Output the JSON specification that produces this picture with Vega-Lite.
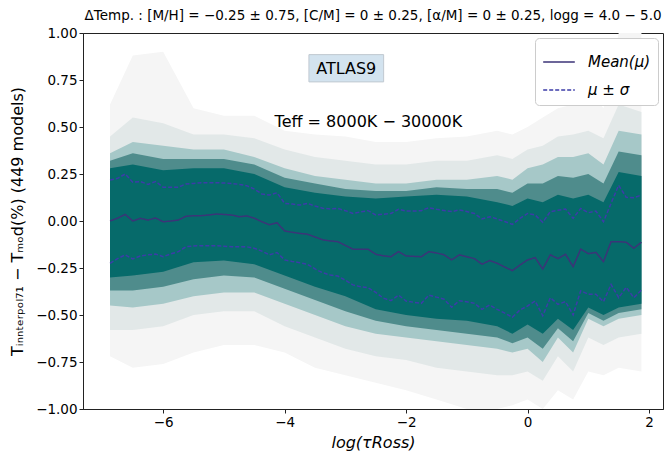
{
  "$schema": "https://vega.github.io/schema/vega-lite/v6.json",
  "width": 580,
  "height": 376,
  "autosize": {"type": "none"},
  "padding": {"left": 83, "top": 33, "right": 5, "bottom": 43},
  "background": "white",
  "config": {
    "font": "DejaVu Sans",
    "view": {"stroke": "#222222", "strokeWidth": 1},
    "axis": {"domainColor": "#222222", "tickColor": "#222222", "labelColor": "#000000", "titleColor": "#000000", "labelFontSize": 13.5, "titleFontSize": 16, "titleFontWeight": "normal", "grid": false, "tickSize": 4}
  },
  "title": {"text": "ΔTemp. : [M/H] = −0.25 ± 0.75, [C/M] = 0 ± 0.25, [α/M] = 0 ± 0.25, logg = 4.0 − 5.0", "fontSize": 13.5, "fontWeight": "normal", "font": "DejaVu Sans", "anchor": "middle", "offset": 4, "color": "#000000"},
  "datasets": {
    "fan": [
      {"x": -6.875, "g_hi": 0.62, "g_lo": -0.72, "f_hi": 0.45, "f_lo": -0.58, "t_hi": 0.36, "t_lo": -0.45, "m_hi": 0.32, "m_lo": -0.37, "c_hi": 0.28, "c_lo": -0.30},
      {"x": -6.5, "g_hi": 0.88, "g_lo": -0.78, "f_hi": 0.55, "f_lo": -0.58, "t_hi": 0.42, "t_lo": -0.46, "m_hi": 0.36, "m_lo": -0.37, "c_hi": 0.30, "c_lo": -0.29},
      {"x": -6.0, "g_hi": 0.90, "g_lo": -0.76, "f_hi": 0.52, "f_lo": -0.56, "t_hi": 0.40, "t_lo": -0.44, "m_hi": 0.33, "m_lo": -0.35, "c_hi": 0.27, "c_lo": -0.27},
      {"x": -5.5, "g_hi": 0.60, "g_lo": -0.70, "f_hi": 0.46, "f_lo": -0.50, "t_hi": 0.38, "t_lo": -0.40, "m_hi": 0.33, "m_lo": -0.31, "c_hi": 0.28, "c_lo": -0.22},
      {"x": -5.0, "g_hi": 0.56, "g_lo": -0.66, "f_hi": 0.46, "f_lo": -0.48, "t_hi": 0.38, "t_lo": -0.38, "m_hi": 0.33, "m_lo": -0.29, "c_hi": 0.28, "c_lo": -0.21},
      {"x": -4.5, "g_hi": 0.56, "g_lo": -0.66, "f_hi": 0.44, "f_lo": -0.48, "t_hi": 0.34, "t_lo": -0.38, "m_hi": 0.30, "m_lo": -0.30, "c_hi": 0.25, "c_lo": -0.23},
      {"x": -4.0, "g_hi": 0.48, "g_lo": -0.70, "f_hi": 0.38, "f_lo": -0.56, "t_hi": 0.28, "t_lo": -0.44, "m_hi": 0.23, "m_lo": -0.36, "c_hi": 0.18, "c_lo": -0.29},
      {"x": -3.5, "g_hi": 0.46, "g_lo": -0.78, "f_hi": 0.34, "f_lo": -0.62, "t_hi": 0.24, "t_lo": -0.50, "m_hi": 0.20, "m_lo": -0.42, "c_hi": 0.15, "c_lo": -0.35},
      {"x": -3.0, "g_hi": 0.45, "g_lo": -0.82, "f_hi": 0.32, "f_lo": -0.68, "t_hi": 0.22, "t_lo": -0.56, "m_hi": 0.17, "m_lo": -0.48, "c_hi": 0.13, "c_lo": -0.40},
      {"x": -2.5, "g_hi": 0.42, "g_lo": -0.86, "f_hi": 0.30, "f_lo": -0.72, "t_hi": 0.20, "t_lo": -0.60, "m_hi": 0.16, "m_lo": -0.53, "c_hi": 0.12, "c_lo": -0.47},
      {"x": -2.0, "g_hi": 0.42, "g_lo": -0.90, "f_hi": 0.30, "f_lo": -0.74, "t_hi": 0.20, "t_lo": -0.62, "m_hi": 0.16, "m_lo": -0.56, "c_hi": 0.13, "c_lo": -0.50},
      {"x": -1.5, "g_hi": 0.44, "g_lo": -0.95, "f_hi": 0.32, "f_lo": -0.78, "t_hi": 0.22, "t_lo": -0.64, "m_hi": 0.18, "m_lo": -0.58, "c_hi": 0.14, "c_lo": -0.52},
      {"x": -1.0, "g_hi": 0.45, "g_lo": -1.0, "f_hi": 0.32, "f_lo": -0.80, "t_hi": 0.22, "t_lo": -0.66, "m_hi": 0.17, "m_lo": -0.60, "c_hi": 0.13, "c_lo": -0.53},
      {"x": -0.5, "g_hi": 0.48, "g_lo": -1.0, "f_hi": 0.35, "f_lo": -0.82, "t_hi": 0.24, "t_lo": -0.68, "m_hi": 0.17, "m_lo": -0.62, "c_hi": 0.10, "c_lo": -0.56},
      {"x": -0.25, "g_hi": 0.46, "g_lo": -0.98, "f_hi": 0.33, "f_lo": -0.82, "t_hi": 0.22, "t_lo": -0.70, "m_hi": 0.15, "m_lo": -0.65, "c_hi": 0.08, "c_lo": -0.60},
      {"x": 0.0, "g_hi": 0.50, "g_lo": -0.95, "f_hi": 0.38, "f_lo": -0.80, "t_hi": 0.28, "t_lo": -0.68, "m_hi": 0.20, "m_lo": -0.62, "c_hi": 0.12, "c_lo": -0.55},
      {"x": 0.25, "g_hi": 0.55, "g_lo": -1.0, "f_hi": 0.40, "f_lo": -0.85, "t_hi": 0.30, "t_lo": -0.75, "m_hi": 0.20, "m_lo": -0.68, "c_hi": 0.10, "c_lo": -0.60},
      {"x": 0.5, "g_hi": 0.60, "g_lo": -0.90, "f_hi": 0.45, "f_lo": -0.72, "t_hi": 0.34, "t_lo": -0.62, "m_hi": 0.24, "m_lo": -0.57, "c_hi": 0.14, "c_lo": -0.52},
      {"x": 0.75, "g_hi": 0.62, "g_lo": -0.95, "f_hi": 0.46, "f_lo": -0.80, "t_hi": 0.34, "t_lo": -0.70, "m_hi": 0.23, "m_lo": -0.64, "c_hi": 0.12, "c_lo": -0.58},
      {"x": 1.0, "g_hi": 0.70, "g_lo": -0.80, "f_hi": 0.48, "f_lo": -0.62, "t_hi": 0.36, "t_lo": -0.52, "m_hi": 0.25, "m_lo": -0.49, "c_hi": 0.14, "c_lo": -0.46},
      {"x": 1.25, "g_hi": 0.60, "g_lo": -0.82, "f_hi": 0.44, "f_lo": -0.66, "t_hi": 0.30, "t_lo": -0.56, "m_hi": 0.20, "m_lo": -0.53, "c_hi": 0.10, "c_lo": -0.50},
      {"x": 1.5, "g_hi": 1.0, "g_lo": -0.78, "f_hi": 0.62, "f_lo": -0.62, "t_hi": 0.48, "t_lo": -0.52, "m_hi": 0.37, "m_lo": -0.49, "c_hi": 0.26, "c_lo": -0.46},
      {"x": 1.875, "g_hi": 1.0, "g_lo": -0.80, "f_hi": 0.58, "f_lo": -0.60, "t_hi": 0.46, "t_lo": -0.50, "m_hi": 0.35, "m_lo": -0.47, "c_hi": 0.24, "c_lo": -0.44}
    ],
    "lines": [
      {"x": -6.875, "m": 0.0, "hi": 0.218, "lo": -0.225},
      {"x": -6.75, "m": 0.015, "hi": 0.227, "lo": -0.2},
      {"x": -6.625, "m": 0.035, "hi": 0.25, "lo": -0.18},
      {"x": -6.5, "m": 0.0, "hi": 0.206, "lo": -0.202},
      {"x": -6.375, "m": 0.014, "hi": 0.21, "lo": -0.186},
      {"x": -6.25, "m": 0.005, "hi": 0.195, "lo": -0.18},
      {"x": -6.125, "m": 0.016, "hi": 0.21, "lo": -0.176},
      {"x": -6.0, "m": -0.004, "hi": 0.18, "lo": -0.19},
      {"x": -5.875, "m": 0.0, "hi": 0.18, "lo": -0.175},
      {"x": -5.75, "m": 0.005, "hi": 0.18, "lo": -0.163},
      {"x": -5.625, "m": 0.025, "hi": 0.197, "lo": -0.137},
      {"x": -5.5, "m": 0.028, "hi": 0.2, "lo": -0.133},
      {"x": -5.375, "m": 0.028, "hi": 0.203, "lo": -0.131},
      {"x": -5.25, "m": 0.032, "hi": 0.204, "lo": -0.131},
      {"x": -5.125, "m": 0.037, "hi": 0.204, "lo": -0.131},
      {"x": -5.0, "m": 0.035, "hi": 0.202, "lo": -0.134},
      {"x": -4.875, "m": 0.032, "hi": 0.2, "lo": -0.137},
      {"x": -4.75, "m": 0.023, "hi": 0.195, "lo": -0.137},
      {"x": -4.625, "m": 0.027, "hi": 0.188, "lo": -0.137},
      {"x": -4.5, "m": 0.015, "hi": 0.17, "lo": -0.145},
      {"x": -4.375, "m": -0.004, "hi": 0.144, "lo": -0.16},
      {"x": -4.25, "m": -0.02, "hi": 0.138, "lo": -0.18},
      {"x": -4.125, "m": -0.009, "hi": 0.15, "lo": -0.168},
      {"x": -4.0, "m": -0.053, "hi": 0.094, "lo": -0.207},
      {"x": -3.875, "m": -0.06, "hi": 0.09, "lo": -0.215},
      {"x": -3.75, "m": -0.066, "hi": 0.085, "lo": -0.222},
      {"x": -3.625, "m": -0.07, "hi": 0.094, "lo": -0.23},
      {"x": -3.5, "m": -0.085, "hi": 0.08, "lo": -0.255},
      {"x": -3.375, "m": -0.1, "hi": 0.068, "lo": -0.275},
      {"x": -3.25, "m": -0.106, "hi": 0.064, "lo": -0.287},
      {"x": -3.125, "m": -0.11, "hi": 0.067, "lo": -0.293},
      {"x": -3.0, "m": -0.13, "hi": 0.055, "lo": -0.315},
      {"x": -2.875, "m": -0.15, "hi": 0.04, "lo": -0.34},
      {"x": -2.75, "m": -0.15, "hi": 0.048, "lo": -0.35},
      {"x": -2.625, "m": -0.15, "hi": 0.055, "lo": -0.355},
      {"x": -2.5, "m": -0.177, "hi": 0.032, "lo": -0.38},
      {"x": -2.375, "m": -0.185, "hi": 0.036, "lo": -0.41},
      {"x": -2.25, "m": -0.19, "hi": 0.04, "lo": -0.424},
      {"x": -2.125, "m": -0.163, "hi": 0.062, "lo": -0.394},
      {"x": -2.0, "m": -0.186, "hi": 0.053, "lo": -0.426},
      {"x": -1.875, "m": -0.188, "hi": 0.053, "lo": -0.432},
      {"x": -1.75, "m": -0.19, "hi": 0.055, "lo": -0.438},
      {"x": -1.625, "m": -0.163, "hi": 0.071, "lo": -0.394},
      {"x": -1.5, "m": -0.17, "hi": 0.062, "lo": -0.405},
      {"x": -1.375, "m": -0.18, "hi": 0.056, "lo": -0.416},
      {"x": -1.25, "m": -0.207, "hi": 0.05, "lo": -0.459},
      {"x": -1.125, "m": -0.18, "hi": 0.059, "lo": -0.424},
      {"x": -1.0, "m": -0.19, "hi": 0.05, "lo": -0.43},
      {"x": -0.875, "m": -0.2, "hi": 0.04, "lo": -0.438},
      {"x": -0.75, "m": -0.23, "hi": 0.011, "lo": -0.47},
      {"x": -0.625, "m": -0.21, "hi": 0.023, "lo": -0.447},
      {"x": -0.5, "m": -0.225, "hi": 0.011, "lo": -0.47},
      {"x": -0.375, "m": -0.245, "hi": -0.003, "lo": -0.49},
      {"x": -0.25, "m": -0.264, "hi": -0.018, "lo": -0.512},
      {"x": -0.125, "m": -0.234, "hi": 0.014, "lo": -0.473},
      {"x": 0.0, "m": -0.207, "hi": 0.04, "lo": -0.452},
      {"x": 0.125, "m": -0.195, "hi": 0.032, "lo": -0.426},
      {"x": 0.25, "m": -0.255, "hi": -0.007, "lo": -0.504},
      {"x": 0.375, "m": -0.18, "hi": 0.05, "lo": -0.408},
      {"x": 0.5, "m": -0.2, "hi": 0.057, "lo": -0.443},
      {"x": 0.625, "m": -0.177, "hi": 0.064, "lo": -0.429},
      {"x": 0.75, "m": -0.243, "hi": 0.014, "lo": -0.5},
      {"x": 0.875, "m": -0.149, "hi": 0.067, "lo": -0.371},
      {"x": 1.0, "m": -0.174, "hi": 0.044, "lo": -0.39},
      {"x": 1.125, "m": -0.167, "hi": 0.053, "lo": -0.39},
      {"x": 1.25, "m": -0.216, "hi": -0.004, "lo": -0.429},
      {"x": 1.375, "m": -0.11, "hi": 0.094, "lo": -0.337},
      {"x": 1.5, "m": -0.11, "hi": 0.19, "lo": -0.408},
      {"x": 1.625, "m": -0.113, "hi": 0.126, "lo": -0.353},
      {"x": 1.75, "m": -0.145, "hi": 0.124, "lo": -0.408},
      {"x": 1.875, "m": -0.113, "hi": 0.138, "lo": -0.367}
    ]
  },
  "encoding": {
    "x": {"field": "x", "type": "quantitative", "scale": {"domain": [-7.32, 2.23], "nice": false, "zero": false},
      "axis": {"values": [-6, -4, -2, 0, 2], "labelExpr": "replace(format(datum.value, 'd'), '-', '−')", "title": "log(τRoss)", "titleFontStyle": "italic", "titlePadding": 6}}
  },
  "layer": [
    {"data": {"name": "fan"}, "mark": {"type": "area", "color": "#f5f5f5", "clip": true},
      "encoding": {"y": {"field": "g_lo", "type": "quantitative", "scale": {"domain": [-1, 1], "nice": false},
        "axis": {"values": [-1, -0.75, -0.5, -0.25, 0, 0.25, 0.5, 0.75, 1], "labelExpr": "replace(format(datum.value, '.2f'), '-', '−')", "title": "Tᵢₙₙₜₑᵣₚₒₗ₇₁ − Tₘₒd(%) (449 models)", "titlePadding": 10}},
        "y2": {"field": "g_hi"}}},
    {"data": {"name": "fan"}, "mark": {"type": "area", "color": "#e2e8e8", "clip": true},
      "encoding": {"y": {"field": "f_lo", "type": "quantitative"}, "y2": {"field": "f_hi"}}},
    {"data": {"name": "fan"}, "mark": {"type": "area", "color": "#a6c8c8", "clip": true},
      "encoding": {"y": {"field": "t_lo", "type": "quantitative"}, "y2": {"field": "t_hi"}}},
    {"data": {"name": "fan"}, "mark": {"type": "area", "color": "#4f8c8c", "clip": true},
      "encoding": {"y": {"field": "m_lo", "type": "quantitative"}, "y2": {"field": "m_hi"}}},
    {"data": {"name": "fan"}, "mark": {"type": "area", "color": "#066a6a", "clip": true},
      "encoding": {"y": {"field": "c_lo", "type": "quantitative"}, "y2": {"field": "c_hi"}}},
    {"data": {"name": "lines"}, "mark": {"type": "line", "strokeWidth": 1.5},
      "encoding": {"y": {"field": "m", "type": "quantitative"},
        "color": {"datum": "Mean(μ)", "type": "nominal", "scale": {"domain": ["Mean(μ)", "μ ± σ"], "range": ["#3c3478", "#3c3ca8"]},
          "legend": {"title": null, "orient": "top-right", "offset": 5, "fillColor": "white", "strokeColor": "#cccccc", "cornerRadius": 4, "padding": 7, "labelFontSize": 15, "labelFontStyle": "italic", "labelColor": "#000000", "symbolType": "stroke", "symbolSize": 1000, "symbolStrokeWidth": 1.5, "rowPadding": 3, "labelOffset": 12}},
        "strokeDash": {"datum": "Mean(μ)", "type": "nominal", "scale": {"domain": ["Mean(μ)", "μ ± σ"], "range": [[1, 0], [4, 2]]}, "legend": null}}},
    {"data": {"name": "lines"}, "mark": {"type": "line", "strokeWidth": 1.5},
      "encoding": {"y": {"field": "hi", "type": "quantitative"},
        "color": {"datum": "μ ± σ", "type": "nominal"},
        "strokeDash": {"datum": "μ ± σ", "type": "nominal"}}},
    {"data": {"name": "lines"}, "mark": {"type": "line", "strokeWidth": 1.5},
      "encoding": {"y": {"field": "lo", "type": "quantitative"},
        "color": {"datum": "μ ± σ", "type": "nominal"},
        "strokeDash": {"datum": "μ ± σ", "type": "nominal"}}},
    {"data": {"values": [{"x0": -3.6, "x1": -2.37, "y0": 0.74, "y1": 0.885}]},
      "mark": {"type": "rect", "fill": "#d3e3ef", "stroke": "#c0c8d0", "strokeWidth": 1},
      "encoding": {"x": {"field": "x0", "type": "quantitative"}, "x2": {"field": "x1"}, "y": {"field": "y0", "type": "quantitative"}, "y2": {"field": "y1"}}},
    {"data": {"values": [{"x": -2.985, "y": 0.811, "t": "ATLAS9"}, {"x": -2.62, "y": 0.527, "t": "Teff = 8000K − 30000K"}]},
      "mark": {"type": "text", "fontSize": 16, "font": "DejaVu Sans", "color": "#000000", "align": "center", "baseline": "middle"},
      "encoding": {"x": {"field": "x", "type": "quantitative"}, "y": {"field": "y", "type": "quantitative"}, "text": {"field": "t"}}}
  ]
}
